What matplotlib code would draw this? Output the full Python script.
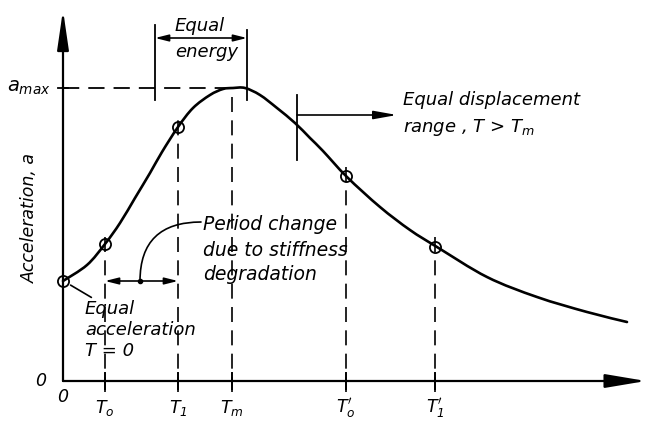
import numpy as np
import matplotlib
matplotlib.use("Agg")
import matplotlib.pyplot as plt
from matplotlib.path import Path
from matplotlib.patches import PathPatch

plt.rcParams['font.family'] = ['DejaVu Sans']
plt.rcParams['font.style'] = 'italic'
plt.rcParams['mathtext.fontset'] = 'dejavusans'

# Spectrum curve (period T, acceleration a)
curve_T = [0.00, 0.24, 0.42, 0.57, 0.72, 0.87, 0.99, 1.15, 1.30, 1.47,
           1.60, 1.70, 1.82, 1.97, 2.14, 2.32, 2.47, 2.60, 2.84, 3.17,
           3.47, 3.74, 4.24, 4.74, 5.24, 5.64]
curve_a = [1.00, 1.16, 1.37, 1.58, 1.83, 2.08, 2.29, 2.54, 2.73, 2.86,
           2.92, 2.93, 2.93, 2.86, 2.73, 2.58, 2.43, 2.30, 2.04, 1.74,
           1.51, 1.34, 1.04, 0.84, 0.69, 0.59]

# Marked periods
tick_T = [0.42, 1.15, 1.69, 2.83, 3.72]
tick_labels = [r'$T_o$', r'$T_1$', r'$T_m$', r"$T_o'$", r"$T_1'$"]
dash_top = [1.49, 2.66, 2.93, 2.21, 1.51]

# Circled points on the curve
circ_T = [0.00, 0.42, 1.15, 2.83, 3.72]
circ_a = [1.00, 1.37, 2.54, 2.05, 1.34]

a_max = 2.93


def smooth_path(x, y):
    # Catmull-Rom through the points, as cubic Bezier segments
    p = np.column_stack([x, y])
    verts = [p[0]]
    codes = [Path.MOVETO]
    for i in range(len(p) - 1):
        p0 = p[i - 1] if i > 0 else p[i]
        p3 = p[i + 2] if i + 2 < len(p) else p[i + 1]
        c1 = p[i] + (p[i + 1] - p0) / 6
        c2 = p[i + 1] - (p3 - p[i]) / 6
        verts += [c1, c2, p[i + 1]]
        codes += [Path.CURVE4] * 3
    return Path(verts, codes)


fig = plt.figure(figsize=(6.46, 4.21), dpi=100)
ax = fig.add_axes([0, 0, 1, 1])
ax.set_xlim(-0.63, 5.83)
ax.set_ylim(-0.40, 3.81)
ax.axis('off')

# axes with arrows
ax.annotate('', xy=(0, 3.71), xytext=(0, 0),
            arrowprops=dict(arrowstyle='-|>,head_length=2.4,head_width=0.35',
                            lw=1.6, color='black', mutation_scale=10,
                            shrinkA=0, shrinkB=0))
ax.annotate('', xy=(5.83, 0), xytext=(0, 0),
            arrowprops=dict(arrowstyle='-|>,head_length=2.5,head_width=0.42',
                            lw=1.6, color='black', mutation_scale=10,
                            shrinkA=0, shrinkB=0))

# curve
ax.add_patch(PathPatch(smooth_path(curve_T, curve_a), fill=False,
                       edgecolor='black', lw=1.9, capstyle='round'))
ax.plot(circ_T, circ_a, 'o', ms=8, mfc='none', mec='black', mew=1.3)

# dashed period lines and tick labels
for t, top, lab in zip(tick_T, dash_top, tick_labels):
    ax.plot([t, t], [-0.11, top], color='black', lw=1.2, dashes=(9, 5))
    ax.plot([t, t], [-0.08, 0.08], color='black', lw=1.4)
    ax.text(t, -0.27, lab, ha='center', va='center', fontsize=12.5)

ax.text(0, -0.16, '0', ha='center', va='center', fontsize=12.5)
ax.text(-0.22, 0, '0', ha='center', va='center', fontsize=12.5)

# a_max
ax.plot([0, 1.69], [a_max, a_max], color='black', lw=1.3, dashes=(9, 5))
ax.plot([-0.05, 0.05], [a_max, a_max], color='black', lw=1.3)
ax.text(-0.12, a_max, r'$a_{max}$', ha='right', va='center', fontsize=14)
ax.text(-0.33, 1.63, 'Acceleration, a', rotation=90, ha='center',
        va='center', fontsize=12.5)

# equal energy bracket
ax.plot([0.92, 0.92], [2.81, 3.56], color='black', lw=1.3)
ax.plot([1.84, 1.84], [2.81, 3.51], color='black', lw=1.3)
ax.annotate('', xy=(0.92, 3.43), xytext=(1.84, 3.43),
            arrowprops=dict(arrowstyle='<|-|>,head_length=0.8,head_width=0.2',
                            lw=1.2, color='black', mutation_scale=10,
                            shrinkA=0, shrinkB=0))
ax.text(1.37, 3.55, 'Equal', ha='center', va='center', fontsize=13)
ax.text(1.44, 3.29, 'energy', ha='center', va='center', fontsize=13)

# equal displacement range
ax.plot([2.34, 2.34], [2.21, 2.86], color='black', lw=1.3)
ax.annotate('', xy=(3.34, 2.66), xytext=(2.34, 2.66),
            arrowprops=dict(arrowstyle='-|>,head_length=1.4,head_width=0.25',
                            lw=1.2, color='black', mutation_scale=10,
                            shrinkA=0, shrinkB=0))
ax.text(3.40, 2.81, 'Equal displacement', ha='left', va='center', fontsize=13)
ax.text(3.40, 2.53, r'range , $T$ > $T_m$', ha='left', va='center', fontsize=13)

# period change bracket
ax.annotate('', xy=(0.42, 1.00), xytext=(1.15, 1.00),
            arrowprops=dict(arrowstyle='<|-|>,head_length=0.8,head_width=0.2',
                            lw=1.2, color='black', mutation_scale=10,
                            shrinkA=0, shrinkB=0))
ax.plot([0.77], [1.00], 'o', ms=3, color='black')
ax.text(1.40, 1.31, 'Period change\ndue to stiffness\ndegradation',
        ha='left', va='center', fontsize=13.5, linespacing=1.4)
ax.annotate('', xy=(0.77, 1.00), xytext=(1.38, 1.59),
            arrowprops=dict(arrowstyle='-', lw=1.2, color='black',
                            connectionstyle='angle3,angleA=0,angleB=90',
                            shrinkA=0, shrinkB=0))

# equal acceleration
ax.annotate('Equal\nacceleration\nT = 0', xy=(0.04, 0.98), xytext=(0.22, 0.51),
            ha='left', va='center', fontsize=13, linespacing=1.2,
            arrowprops=dict(arrowstyle='-', lw=1.2, color='black',
                            shrinkA=0, shrinkB=3, relpos=(0.1, 1.0)))

fig.savefig('out.png', dpi=100)
